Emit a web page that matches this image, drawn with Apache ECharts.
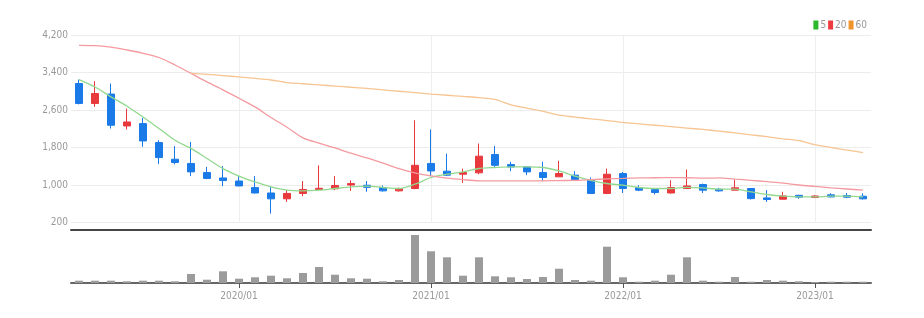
<!DOCTYPE html>
<html>
<head>
<meta charset="utf-8">
<script src="https://cdn.jsdelivr.net/npm/echarts@6/dist/echarts.min.js"></script>
<style>
html,body{margin:0;padding:0;background:#fff;}
#chart{width:924px;height:318px;}
</style>
</head>
<body>
<div id="chart"></div>
<script>
const categories = [
  '2019/03','2019/04','2019/05','2019/06','2019/07','2019/08','2019/09','2019/10','2019/11','2019/12',
  '2020/01','2020/02','2020/03','2020/04','2020/05','2020/06','2020/07','2020/08','2020/09','2020/10','2020/11','2020/12',
  '2021/01','2021/02','2021/03','2021/04','2021/05','2021/06','2021/07','2021/08','2021/09','2021/10','2021/11','2021/12',
  '2022/01','2022/02','2022/03','2022/04','2022/05','2022/06','2022/07','2022/08','2022/09','2022/10','2022/11','2022/12',
  '2023/01','2023/02','2023/03','2023/04'
];
const openValues  = [3165,2740,2940,2260,2310,1905,1550,1460,1265,1150,1085,945,830,705,820,905,920,1000,995,945,875,925,1460,1295,1230,1260,1650,1435,1385,1265,1175,1210,1115,820,1245,945,905,830,925,1010,910,890,925,725,697,780,735,790,775,760];
const closeValues = [2740,2952,2275,2345,1940,1585,1480,1280,1140,1095,980,830,705,820,905,930,990,1030,950,875,925,1420,1300,1210,1265,1615,1420,1385,1280,1160,1245,1115,820,1230,925,890,840,945,980,890,875,940,710,690,767,740,765,745,740,705];
const lowValues   = [2720,2666,2205,2185,1815,1445,1440,1190,1125,975,975,820,390,640,760,890,890,875,855,860,860,910,1190,1190,1045,1230,1385,1295,1210,1085,1170,1100,815,805,830,870,800,820,925,830,855,885,690,640,695,705,720,740,720,690];
const highValues  = [3250,3214,3165,2630,2430,1955,1830,1920,1385,1405,1190,1190,960,890,1085,1420,1190,1100,1085,990,945,2380,2185,1670,1350,1885,1835,1495,1405,1495,1515,1295,1160,1350,1280,995,925,1100,1330,1030,940,1115,930,890,855,790,780,825,830,820];
const volumeValues = [230,230,230,170,230,230,170,900,330,1170,430,570,730,470,1000,1600,830,470,430,170,300,4800,3170,2570,730,2570,670,570,400,600,1430,300,230,3630,570,130,230,830,2570,230,130,600,130,300,230,170,100,130,130,130];
const ma5Values  = [3250,3090,2880,2680,2450,2205,1955,1780,1565,1350,1190,1065,960,890,875,889,925,960,975,947,925,1017,1160,1230,1280,1352,1373,1386,1386,1373,1300,1190,1100,1032,996,947,925,925,950,938,910,910,853,797,761,746,746,761,761,746];
const ma20Values = [3980,3975,3940,3880,3810,3720,3560,3380,3200,3030,2850,2666,2440,2233,2004,1891,1790,1678,1578,1465,1348,1258,1194,1145,1113,1090,1090,1087,1087,1090,1095,1100,1115,1130,1140,1150,1155,1158,1155,1145,1150,1125,1100,1070,1040,1000,970,940,915,890];
const ma60Values = [null,null,null,null,null,null,null,3380,3360,3335,3305,3275,3240,3185,3160,3135,3110,3085,3060,3030,3000,2970,2940,2915,2890,2865,2825,2710,2640,2570,2490,2450,2410,2375,2335,2305,2275,2245,2215,2185,2150,2110,2070,2030,1985,1945,1860,1800,1745,1690];
const yTicks = {min: 200, max: 4200, step: 800};

const FONT = "'Liberation Sans Narrow','DejaVu Sans Condensed','Liberation Sans',sans-serif";
const isJan = (i, v) => String(v).endsWith('/01');
const candleData = categories.map((c, i) => [openValues[i], closeValues[i], lowValues[i], highValues[i]]);

const chart = echarts.init(document.getElementById('chart'), null, {renderer: 'canvas'});
chart.setOption({
  animation: false,
  backgroundColor: '#fff',
  textStyle: {fontFamily: FONT},
  legend: {
    data: ['5', '20', '60'],
    right: 52, top: 15,
    icon: 'rect', itemWidth: 5, itemHeight: 9, itemGap: 2,
    textStyle: {color: '#999', fontSize: 10, fontFamily: FONT, padding: [0,0,0,-3]}
  },
  grid: [
    {left: 71, right: 53, top: 35, height: 187.5},
    {left: 71, right: 53, top: 232, height: 51}
  ],
  xAxis: [
    {
      type: 'category', data: categories, gridIndex: 0, boundaryGap: true,
      offset: 7,
      axisLine: {lineStyle: {color: '#444', width: 2}},
      axisTick: {show: false}, axisLabel: {show: false},
      splitLine: {show: true, interval: isJan, alignWithLabel: true, lineStyle: {color: '#eeeeee', width: 1}}
    },
    {
      type: 'category', data: categories, gridIndex: 1, boundaryGap: true,
      axisLine: {lineStyle: {color: '#666', width: 2}},
      axisTick: {show: true, interval: isJan, alignWithLabel: true, length: 5, lineStyle: {color: '#555'}},
      axisLabel: {show: true, interval: isJan, color: '#999', fontSize: 10, margin: 8, fontFamily: FONT},
      splitLine: {show: false}
    }
  ],
  yAxis: [
    {
      type: 'value', gridIndex: 0, min: yTicks.min, max: yTicks.max, interval: yTicks.step,
      axisLine: {show: false}, axisTick: {show: false},
      axisLabel: {color: '#999', fontSize: 10, margin: 3, fontFamily: FONT,
        formatter: v => v.toLocaleString('en-US')},
      splitLine: {lineStyle: {color: '#ececec'}}
    },
    {
      type: 'value', gridIndex: 1, min: 0, max: 5100,
      axisLine: {show: false}, axisTick: {show: false}, axisLabel: {show: false},
      splitLine: {show: false}
    }
  ],
  series: [
    {
      name: 'candle', type: 'candlestick', xAxisIndex: 0, yAxisIndex: 0,
      data: candleData, barWidth: 8,
      itemStyle: {color: '#e8393d', color0: '#1a7ae8', borderColor: '#e8393d', borderColor0: '#1a7ae8', borderWidth: 1}
    },
    {
      name: '5', type: 'line', data: ma5Values, xAxisIndex: 0, yAxisIndex: 0,
      showSymbol: false, smooth: 0.3,
      itemStyle: {color: '#2bb82b'}, lineStyle: {color: '#92d98f', width: 1.3}
    },
    {
      name: '20', type: 'line', data: ma20Values, xAxisIndex: 0, yAxisIndex: 0,
      showSymbol: false, smooth: 0.3,
      itemStyle: {color: '#ee3b42'}, lineStyle: {color: '#f49aa0', width: 1.3}
    },
    {
      name: '60', type: 'line', data: ma60Values, xAxisIndex: 0, yAxisIndex: 0,
      showSymbol: false, smooth: 0.3,
      itemStyle: {color: '#f0952e'}, lineStyle: {color: '#f7c593', width: 1.3}
    },
    {
      name: 'volume', type: 'bar', data: volumeValues, xAxisIndex: 1, yAxisIndex: 1,
      barWidth: 8, itemStyle: {color: '#9b9b9b'}
    }
  ]
});
</script>
</body>
</html>
